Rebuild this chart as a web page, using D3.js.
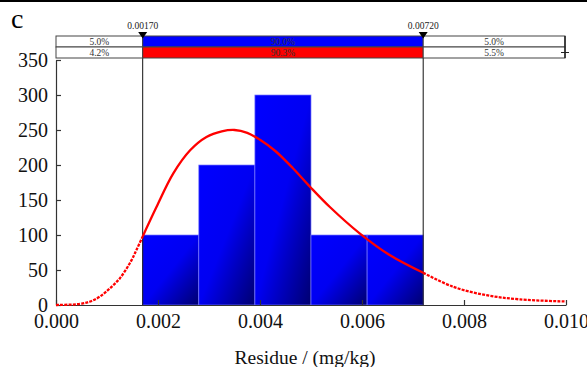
<!DOCTYPE html>
<html>
<head>
<meta charset="utf-8">
<script src="https://cdn.jsdelivr.net/npm/d3@7"></script>
<style>
  html, body { margin: 0; padding: 0; background: #fff; }
  svg { display: block; }
  text { font-family: "Liberation Serif", "DejaVu Serif", serif; }
</style>
</head>
<body>
<svg id="chart" width="587" height="367"></svg>
<script>
// ---------- data ----------
const binEdges = [0.0017, 0.0028, 0.0039, 0.0050, 0.0061, 0.0072];
const counts = [100, 200, 300, 100, 100];

const curveX = [0, 0.00047, 0.00067, 0.00086, 0.00106, 0.00125, 0.00145, 0.00158, 0.0017,
                0.00197, 0.0023, 0.00263, 0.00295, 0.00325, 0.0035, 0.00375, 0.0040, 0.0043,
                0.00465, 0.00498, 0.00537, 0.00596, 0.00655, 0.0072, 0.00779, 0.00844, 0.0091, 0.0100];
const curveY = [0, 1.5, 5, 12, 24, 38, 60, 79, 98,
                140, 188, 221, 240, 248, 250, 246, 236, 220,
                195, 169, 140, 102, 71, 46, 26, 14, 8, 5];

const xTicks = [0, 0.002, 0.004, 0.006, 0.008, 0.010];
const yTicks = [0, 50, 100, 150, 200, 250, 300, 350];

const markers = [0.0017, 0.0072];
const markerLabels = ["0.00170", "0.00720"];

const bandLeft = ["5.0%", "4.2%"];
const bandMid = ["90.0%", "90.3%"];
const bandRight = ["5.0%", "5.5%"];
const bandColors = ["#0000ff", "#ff0000"];

// ---------- layout ----------
(function () {
const svg = d3.select("#chart");
const mL = 56, mR = 566, mT = 60, mB = 305;
const x = d3.scaleLinear().domain([0, 0.010]).range([mL, mR]);
const y = d3.scaleLinear().domain([0, 350]).range([mB, mT]);
const axisColor = "#333";

// top border line
svg.append("rect").attr("x", 0).attr("y", 0).attr("width", 587).attr("height", 2).attr("fill", "#000");

// panel letter
svg.append("text").attr("x", 11).attr("y", 28).attr("font-size", 28).attr("fill", "#000").text("c");

// gradient for bars
const defs = svg.append("defs");
const grad = defs.append("linearGradient").attr("id", "barGrad")
  .attr("x1", 0).attr("y1", 0).attr("x2", 1).attr("y2", 1);
grad.append("stop").attr("offset", "0%").attr("stop-color", "#0000ff");
grad.append("stop").attr("offset", "50%").attr("stop-color", "#0000f2");
grad.append("stop").attr("offset", "100%").attr("stop-color", "#000070");

// bars
const bins = counts.map((c, i) => ({ x0: binEdges[i], x1: binEdges[i + 1], c }));
svg.append("g").selectAll("rect").data(bins).join("rect")
  .attr("x", d => x(d.x0))
  .attr("width", d => x(d.x1) - x(d.x0))
  .attr("y", d => y(d.c))
  .attr("height", d => y(0) - y(d.c))
  .attr("fill", "url(#barGrad)")
  .attr("stroke", "#7a7aff")
  .attr("stroke-width", 0.7);

// marker vertical lines
const bandTop = 36, bandMid1 = 47, bandBottom = 58;
svg.append("g").selectAll("line").data(markers).join("line")
  .attr("x1", d => x(d)).attr("x2", d => x(d))
  .attr("y1", 33).attr("y2", mB)
  .attr("stroke", "#111").attr("stroke-width", 1);

// axes
const yAxis = d3.axisLeft(y).tickValues(yTicks).tickSizeInner(-5).tickSizeOuter(0).tickPadding(8);
const gy = svg.append("g").attr("transform", `translate(${mL},0)`).call(yAxis);
gy.select(".domain").attr("stroke", axisColor).attr("stroke-width", 1.2);
gy.selectAll(".tick line").attr("stroke", axisColor).attr("stroke-width", 1.2);
gy.selectAll(".tick text").attr("font-size", 20).attr("fill", "#111")
  .attr("font-family", "Liberation Serif, serif").attr("dy", "0.3em");

const xAxis = d3.axisBottom(x).tickValues(xTicks).tickFormat(d3.format(".3f"))
  .tickSizeInner(-5).tickSizeOuter(0).tickPadding(11);
const gx = svg.append("g").attr("transform", `translate(0,${mB})`).call(xAxis);
gx.select(".domain").attr("stroke", axisColor).attr("stroke-width", 1.2);
gx.selectAll(".tick line").attr("stroke", axisColor).attr("stroke-width", 1.2);
gx.selectAll(".tick text").attr("font-size", 20).attr("fill", "#111")
  .attr("font-family", "Liberation Serif, serif").attr("dy", "0.62em");

// axis title
svg.append("text").attr("x", 305).attr("y", 364).attr("text-anchor", "middle")
  .attr("font-size", 19.5).attr("fill", "#111").text("Residue / (mg/kg)");

// fitted curve
const pts = curveX.map((v, i) => [v, curveY[i]]);
const line = d3.line().x(d => x(d[0])).y(d => y(d[1])).curve(d3.curveCatmullRom.alpha(0.5));
const lo = markers[0], hi = markers[1];
const segLeft = pts.filter(p => p[0] <= lo);
const segMid = pts.filter(p => p[0] >= lo && p[0] <= hi);
const segRight = pts.filter(p => p[0] >= hi);
svg.append("path").attr("d", line(segLeft)).attr("fill", "none")
  .attr("stroke", "#ff0000").attr("stroke-width", 2.3).attr("stroke-dasharray", "3,1.2");
svg.append("path").attr("d", line(segRight)).attr("fill", "none")
  .attr("stroke", "#ff0000").attr("stroke-width", 2.3).attr("stroke-dasharray", "3,1.2");
svg.append("path").attr("d", line(segMid)).attr("fill", "none")
  .attr("stroke", "#ff0000").attr("stroke-width", 2.3);

// top band
const bx0 = mL, bx1 = 565;
const rowsY = [[bandTop, bandMid1], [bandMid1, bandBottom]];
const band = svg.append("g");
rowsY.forEach((r, i) => {
  const [y0, y1] = r;
  band.append("rect").attr("x", bx0).attr("y", y0).attr("width", x(lo) - bx0).attr("height", y1 - y0)
    .attr("fill", "#fff").attr("stroke", "#444").attr("stroke-width", 1);
  band.append("rect").attr("x", x(lo)).attr("y", y0).attr("width", x(hi) - x(lo)).attr("height", y1 - y0)
    .attr("fill", bandColors[i]).attr("stroke", "#444").attr("stroke-width", 1);
  band.append("rect").attr("x", x(hi)).attr("y", y0).attr("width", bx1 - x(hi)).attr("height", y1 - y0)
    .attr("fill", "#fff").attr("stroke", "#444").attr("stroke-width", 1);
  const ty = y1 - 2.5;
  band.append("text").attr("x", (bx0 + x(lo)) / 2).attr("y", ty).attr("text-anchor", "middle")
    .attr("font-size", 9.5).attr("fill", "#333").text(bandLeft[i]);
  band.append("text").attr("x", (x(lo) + x(hi)) / 2).attr("y", ty).attr("text-anchor", "middle")
    .attr("font-size", 9.5).attr("fill", "#333").text(bandMid[i]);
  band.append("text").attr("x", (x(hi) + bx1) / 2).attr("y", ty).attr("text-anchor", "middle")
    .attr("font-size", 9.5).attr("fill", "#333").text(bandRight[i]);
});
band.append("line").attr("x1", bx1).attr("x2", bx1).attr("y1", bandTop).attr("y2", bandBottom)
  .attr("stroke", "#222").attr("stroke-width", 1.5);
band.append("line").attr("x1", bx1 - 4).attr("x2", bx1 + 4).attr("y1", 52.5).attr("y2", 52.5)
  .attr("stroke", "#222").attr("stroke-width", 1);

// markers: triangles and labels
markers.forEach((m, i) => {
  const cx = x(m);
  svg.append("path").attr("d", `M${cx - 4.5},32 L${cx + 4.5},32 L${cx},38.5 Z`).attr("fill", "#000");
  svg.append("text").attr("x", cx).attr("y", 29).attr("text-anchor", "middle")
    .attr("font-size", 9.5).attr("fill", "#222").text(markerLabels[i]);
});
})();
</script>
</body>
</html>
